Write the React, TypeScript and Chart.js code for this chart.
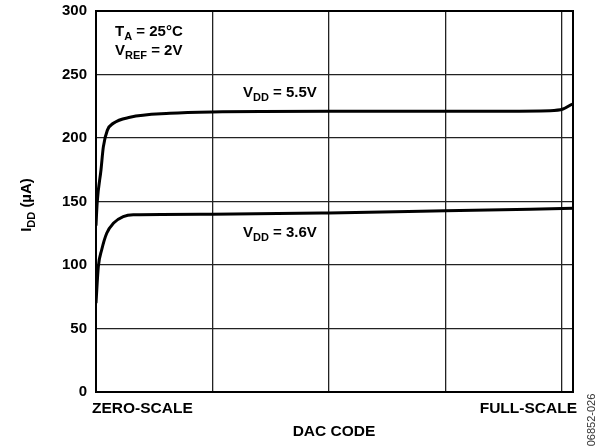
import React, { useEffect, useRef } from "react";
import { Chart, registerables } from "chart.js";

Chart.register(...registerables);

// DAC code (0..4095) and supply current (µA)
const codes55 = [0, 10, 43, 63, 97, 149, 292, 635, 996, 2000, 3000, 3900, 4010, 4090];
const idd55 = [131, 149, 175, 193, 206, 211.6, 216.3, 219.4, 220.5, 221, 221, 221.5, 222.8, 226.8];
const codes36 = [0, 20, 49, 92, 149, 234, 320, 996, 2000, 3000, 4095];
const idd36 = [70, 98.7, 112, 125, 132.8, 138, 139.5, 140, 141, 142.7, 144.6];

const yTicks = [0, 50, 100, 150, 200, 250, 300];
const xGrid = [0, 1000, 2000, 3000, 4000];
const xLabels = ["ZERO-SCALE", "FULL-SCALE"];
const xTitle = "DAC CODE";
const figId = "06852-026";

const FONT = "'Liberation Sans', Arial, sans-serif";

type Part = { t: string; sub?: boolean };

function partsWidth(ctx: CanvasRenderingContext2D, parts: Part[], size: number, subSize: number) {
  let w = 0;
  for (const p of parts) {
    ctx.font = `bold ${p.sub ? subSize : size}px ${FONT}`;
    w += ctx.measureText(p.t).width;
  }
  return w;
}

function drawParts(
  ctx: CanvasRenderingContext2D,
  parts: Part[],
  x: number,
  y: number,
  align: "left" | "center" | "right",
  size = 15,
  subSize = 11
) {
  const w = partsWidth(ctx, parts, size, subSize);
  let cx = align === "left" ? x : align === "center" ? x - w / 2 : x - w;
  ctx.textAlign = "left";
  ctx.textBaseline = "alphabetic";
  ctx.fillStyle = "#000";
  for (const p of parts) {
    ctx.font = `bold ${p.sub ? subSize : size}px ${FONT}`;
    ctx.fillText(p.t, cx, p.sub ? y + 4 : y);
    cx += ctx.measureText(p.t).width;
  }
}

const textPlugin = {
  id: "texts",
  afterDatasetsDraw(chart: any) {
    const ctx: CanvasRenderingContext2D = chart.ctx;
    const a = chart.chartArea;
    ctx.save();
    // frame
    ctx.strokeStyle = "#000";
    ctx.lineWidth = 2;
    ctx.strokeRect(a.left, a.top, a.right - a.left, a.bottom - a.top);

    drawParts(ctx, [{ t: "T" }, { t: "A", sub: true }, { t: " = 25°C" }], 115, 36, "left");
    drawParts(ctx, [{ t: "V" }, { t: "REF", sub: true }, { t: " = 2V" }], 115, 55, "left");
    drawParts(ctx, [{ t: "V" }, { t: "DD", sub: true }, { t: " = 5.5V" }], 243, 97, "left");
    drawParts(ctx, [{ t: "V" }, { t: "DD", sub: true }, { t: " = 3.6V" }], 243, 237, "left");

    // x labels
    ctx.font = `bold 15.5px ${FONT}`;
    ctx.fillStyle = "#000";
    ctx.textBaseline = "alphabetic";
    ctx.textAlign = "left";
    ctx.fillText(xLabels[0], 92, 413);
    ctx.textAlign = "right";
    ctx.fillText(xLabels[1], 577, 413);
    ctx.textAlign = "center";
    ctx.fillText(xTitle, 334, 436);

    // y title
    ctx.save();
    ctx.translate(31, 205);
    ctx.rotate(-Math.PI / 2);
    drawParts(ctx, [{ t: "I" }, { t: "DD", sub: true }, { t: " (µA)" }], 0, 0, "center");
    ctx.restore();

    // figure id
    ctx.save();
    ctx.translate(595, 420);
    ctx.rotate(-Math.PI / 2);
    ctx.font = `11px ${FONT}`;
    ctx.fillStyle = "#333";
    ctx.textAlign = "center";
    ctx.fillText(figId, 0, 0);
    ctx.restore();

    ctx.restore();
  },
};

export default function App() {
  const ref = useRef<HTMLCanvasElement | null>(null);
  useEffect(() => {
    if (!ref.current) return;
    const chart = new Chart(ref.current, {
      type: "line",
      data: {
        datasets: [
          {
            label: "VDD = 5.5V",
            data: codes55.map((c, i) => ({ x: c, y: idd55[i] })),
            borderColor: "#000",
            borderWidth: 3,
            pointRadius: 0,
            cubicInterpolationMode: "monotone",
          },
          {
            label: "VDD = 3.6V",
            data: codes36.map((c, i) => ({ x: c, y: idd36[i] })),
            borderColor: "#000",
            borderWidth: 3,
            pointRadius: 0,
            cubicInterpolationMode: "monotone",
          },
        ],
      },
      options: {
        responsive: false,
        animation: false,
        parsing: false as any,
        layout: { padding: { top: 11, right: 32, left: 0, bottom: 0 } },
        plugins: { legend: { display: false }, tooltip: { enabled: false } },
        scales: {
          x: {
            type: "linear",
            min: 0,
            max: 4096,
            afterBuildTicks: (s: any) => {
              s.ticks = xGrid.map((v) => ({ value: v }));
            },
            ticks: { display: false },
            grid: { color: "#222", lineWidth: 1.3, drawTicks: false },
            border: { display: false },
            afterFit: (s: any) => {
              s.height = 54;
              s.paddingLeft = 0;
              s.paddingRight = 0;
            },
          },
          y: {
            type: "linear",
            min: 0,
            max: 300,
            afterBuildTicks: (s: any) => {
              s.ticks = yTicks.map((v) => ({ value: v }));
            },
            ticks: {
              color: "#000",
              font: { family: FONT, size: 15, weight: "bold" },
              padding: 9,
            },
            grid: { color: "#222", lineWidth: 1.3, drawTicks: false },
            border: { display: false },
            afterFit: (s: any) => {
              s.width = 96;
              s.paddingTop = 0;
              s.paddingBottom = 0;
            },
          },
        },
      },
      plugins: [textPlugin],
    });
    return () => chart.destroy();
  }, []);
  return (
    <div style={{ position: "fixed", left: 0, top: 0, width: 605, height: 446, background: "#fff" }}>
      <canvas ref={ref} width={605} height={446} />
    </div>
  );
}
